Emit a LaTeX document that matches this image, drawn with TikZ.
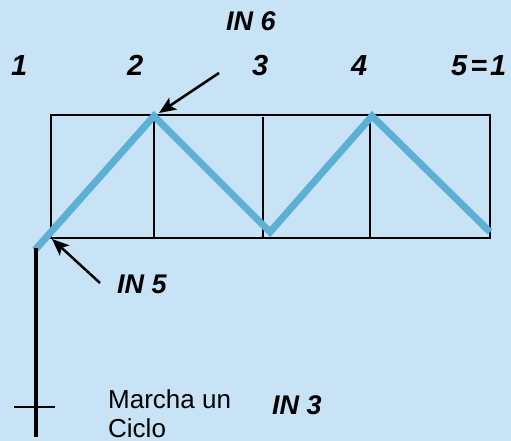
\documentclass[tikz,border=0pt]{standalone}
\usepackage{fontspec}
\setmainfont{Liberation Sans}
\usetikzlibrary{arrows.meta}
\definecolor{bgblue}{RGB}{200,226,246}
\definecolor{zig}{RGB}{91,176,211}
\begin{document}
\begin{tikzpicture}[x=1pt,y=-1pt,
  grid/.style={draw=black,line width=2pt},
  zigline/.style={draw=zig,line width=7pt},
  lbl/.style={inner sep=0pt,anchor=base west,font=\fontsize{27}{30}\selectfont\bfseries\itshape},
  num/.style={inner sep=0pt,anchor=base west,font=\fontsize{29}{32}\selectfont\bfseries\itshape},
  txt/.style={inner sep=0pt,anchor=base west,font=\fontsize{26}{30}\selectfont},
  ptr/.style={draw=black,line width=2.5pt,-{Stealth[length=17pt,width=14pt,inset=4pt]}}]
\fill[bgblue] (0,0) rectangle (511,441);
\useasboundingbox (0,0) rectangle (511,441);
% grid
\draw[grid] (51,115) rectangle (490,238);
\draw[grid] (154,115) -- (154,238);
\draw[grid] (263,117) -- (263,238);
\draw[grid] (370,115) -- (370,238);
% zigzag
\coordinate (z0) at (35,250);
\coordinate (z1) at (154,116);
\coordinate (z2) at (270,232);
\coordinate (z3) at (372,116);
\coordinate (z4) at (490,232);
\draw[zigline] (z0) -- (z1) -- (z2) -- (z3) -- (z4);
% vertical line
\coordinate (v0) at (36,248);
\coordinate (v1) at (36,437);
\draw[line width=4.5pt] (v0) -- (v1);
\coordinate (t0) at (14,407);
\coordinate (t1) at (55,407);
\draw[line width=1.5pt] (t0) -- (t1);
% labels
\node[num] (n1) at (11,76) {1};
\node[num] (n2) at (127,76) {2};
\node[num] (n3) at (252,76) {3};
\node[num] (n4) at (351,76) {4};
\node[num] (n5) at (451,76) {5{\kern3pt}={\kern3pt}1};
\node[lbl] (in6) at (226,31) {IN 6};
\node[lbl] (in5) at (117,293) {IN 5};
\node[lbl] (in3) at (272,414) {IN 3};
\node[txt] (m1) at (108,408) {Marcha un};
\node[txt] (m2) at (108,437) {Ciclo};
% arrows
\coordinate (a6s) at (219,73);
\coordinate (a6e) at (159,113);
\coordinate (a5s) at (100,283);
\coordinate (a5e) at (52,239);
\draw[ptr] (a6s) -- (a6e);
\draw[ptr] (a5s) -- (a5e);
\end{tikzpicture}
\end{document}
